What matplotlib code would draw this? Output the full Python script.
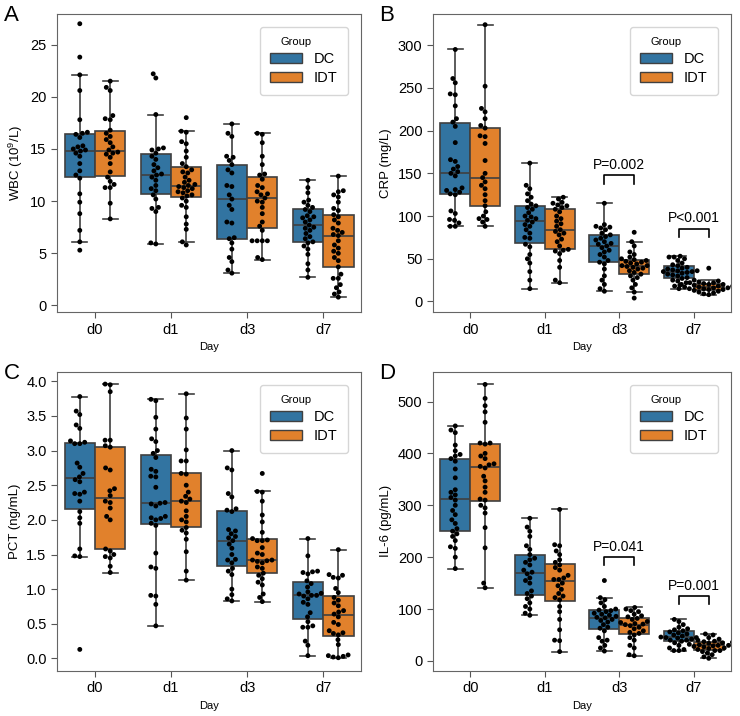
# 4-panel box + swarm chart (WBC, CRP, PCT, IL-6 by day and group)

import matplotlib
matplotlib.use('Agg')
import matplotlib.pyplot as plt
from matplotlib.patches import Patch
import pandas as pd
import seaborn as sns

plt.rcParams['font.family'] = ['Liberation Sans', 'DejaVu Sans']
plt.rcParams['mathtext.fontset'] = 'custom'
plt.rcParams['mathtext.rm'] = 'Liberation Sans'

days = ['d0', 'd1', 'd3', 'd7']
groups = ['DC', 'IDT']
colors = ['#1f77b4', '#ff7f0e']

# --- WBC (10^9/L) ---
wbc_dc_d0 = [27.0, 23.8, 22.1, 20.6, 17.8, 16.6, 16.5, 16.4, 16.1, 15.3, 15.2, 15.0, 14.9, 14.8,
             14.6, 14.3, 13.6, 12.9, 12.5, 12.2, 10.7, 9.9, 8.8, 7.2, 6.1, 5.3]
wbc_idt_d0 = [21.5, 20.9, 20.6, 18.2, 17.9, 17.8, 16.8, 16.5, 16.2, 15.9, 15.6, 15.2, 14.9, 14.7,
              14.6, 14.5, 14.2, 13.6, 12.8, 12.3, 11.9, 11.6, 11.3, 11.3, 9.8, 8.3]
wbc_dc_d1 = [22.2, 21.8, 18.3, 15.1, 15.0, 14.9, 14.6, 14.3, 14.0, 13.5, 13.2, 12.9, 12.6, 12.5,
             12.3, 12.0, 11.5, 11.2, 11.0, 10.6, 10.2, 9.4, 9.3, 9.0, 6.0, 5.9]
wbc_idt_d1 = [18.0, 16.7, 16.6, 15.7, 15.5, 14.8, 14.2, 13.6, 13.3, 13.0, 12.8, 12.7, 12.3, 12.0,
              11.8, 11.6, 11.5, 11.4, 11.3, 11.2, 11.0, 10.9, 10.8, 10.6, 10.5, 10.3, 10.0, 9.6,
              9.4, 8.5, 7.8, 7.3, 6.1, 5.8]
wbc_dc_d3 = [17.4, 16.5, 16.2, 14.3, 14.2, 13.9, 13.5, 13.0, 12.7, 11.5, 11.4, 10.6, 10.2, 9.6,
             9.2, 8.0, 7.9, 6.5, 6.4, 6.0, 5.4, 4.6, 4.2, 3.4, 3.1]
wbc_idt_d3 = [16.5, 16.4, 15.6, 14.3, 13.5, 12.6, 12.5, 12.1, 11.5, 11.3, 10.9, 10.7, 10.6, 10.3,
              10.0, 9.9, 9.4, 8.8, 8.0, 7.6, 7.2, 6.2, 6.2, 6.2, 6.2, 4.6, 4.4]
wbc_dc_d7 = [12.0, 11.3, 10.8, 10.1, 9.9, 9.6, 9.4, 9.2, 9.0, 8.6, 8.5, 8.4, 8.2, 8.0, 7.7, 7.5,
             7.4, 7.2, 6.9, 6.6, 6.4, 6.1, 6.0, 5.7, 5.4, 4.9, 4.0, 3.4, 2.7]
wbc_idt_d7 = [12.4, 11.0, 10.9, 10.6, 10.4, 9.9, 9.3, 9.1, 8.7, 8.5, 8.2, 7.9, 7.4, 7.2, 7.0, 6.8,
              6.7, 6.2, 5.8, 5.5, 5.2, 5.0, 4.6, 4.3, 3.7, 3.0, 2.6, 2.6, 2.0, 1.7, 1.3, 1.1, 0.8]

# --- CRP (mg/L) ---
crp_dc_d0 = [295, 261, 256, 243, 242, 229, 214, 210, 205, 186, 166, 164, 158, 155, 152, 150, 147,
             133, 131, 130, 128, 126, 125, 106, 103, 96, 95, 92, 88, 88]
crp_idt_d0 = [324, 252, 226, 222, 214, 206, 203, 194, 193, 185, 165, 150, 145, 140, 136, 132, 125,
              118, 112, 105, 100, 97, 96, 93, 88]
crp_dc_d1 = [162, 136, 132, 126, 122, 118, 114, 112, 110, 108, 104, 100, 99, 97, 95, 93, 90, 88,
             84, 80, 75, 74, 67, 64, 55, 50, 45, 35, 25, 15]
crp_idt_d1 = [122, 120, 116, 115, 113, 112, 110, 108, 105, 100, 97, 94, 91, 88, 84, 82, 80, 78,
              73, 70, 65, 61, 60, 59, 56, 48, 40, 25, 22]
crp_dc_d3 = [115, 90, 88, 87, 86, 84, 80, 78, 76, 74, 72, 70, 68, 67, 65, 63, 60, 58, 55, 52, 48,
             46, 44, 38, 30, 25, 20, 15, 12]
crp_idt_d3 = [81, 70, 65, 58, 55, 52, 50, 49, 48, 47, 46, 45, 44, 42, 42, 41, 40, 39, 38, 36, 34,
              32, 30, 28, 25, 20, 16, 11, 4]
crp_dc_d7 = [53, 52, 52, 50, 48, 45, 43, 42, 40, 39, 38, 37, 36, 36, 35, 35, 34, 33, 32, 31, 30,
             28, 27, 25, 24, 22, 20, 18, 15]
crp_idt_d7 = [39, 25, 24, 23, 22, 22, 21, 20, 20, 19, 19, 18, 18, 18, 17, 17, 16, 16, 15, 15, 14,
              14, 13, 12, 11, 10, 9, 8]

# --- PCT (ng/mL) ---
pct_dc_d0 = [3.78, 3.57, 3.52, 3.37, 3.32, 3.14, 3.12, 3.10, 3.10, 2.82, 2.76, 2.67, 2.62, 2.58,
             2.55, 2.40, 2.38, 2.37, 2.27, 2.12, 2.03, 1.95, 1.58, 1.48, 1.47, 0.13]
pct_idt_d0 = [3.96, 3.95, 3.85, 3.15, 3.15, 3.07, 3.05, 2.75, 2.72, 2.45, 2.42, 2.35, 2.27, 2.25,
              2.17, 2.05, 2.00, 1.58, 1.55, 1.50, 1.47, 1.45, 1.33, 1.24]
pct_dc_d1 = [3.74, 3.72, 3.48, 3.31, 3.17, 3.13, 3.00, 2.96, 2.90, 2.73, 2.70, 2.63, 2.62, 2.47,
             2.25, 2.24, 2.23, 2.20, 2.05, 2.03, 2.02, 2.00, 1.95, 1.92, 1.52, 1.32, 1.30, 0.91,
             0.90, 0.78, 0.47]
pct_idt_d1 = [3.82, 3.47, 3.31, 3.01, 2.85, 2.85, 2.67, 2.66, 2.50, 2.40, 2.34, 2.30, 2.27, 2.25,
              2.13, 2.05, 2.00, 1.97, 1.89, 1.85, 1.81, 1.72, 1.54, 1.26, 1.13]
pct_dc_d3 = [3.00, 2.75, 2.72, 2.38, 2.33, 2.16, 2.14, 2.12, 1.86, 1.84, 1.80, 1.76, 1.74, 1.70,
             1.65, 1.59, 1.50, 1.43, 1.42, 1.38, 1.30, 1.26, 1.21, 1.00, 0.92, 0.86, 0.83]
pct_idt_d3 = [2.67, 2.41, 2.40, 2.27, 2.07, 1.97, 1.82, 1.73, 1.71, 1.70, 1.70, 1.60, 1.52, 1.50,
              1.42, 1.42, 1.41, 1.40, 1.38, 1.32, 1.30, 1.23, 1.20, 1.15, 1.10, 1.06, 0.93, 0.88,
              0.82]
pct_dc_d7 = [1.73, 1.48, 1.26, 1.25, 1.24, 1.22, 1.12, 1.08, 1.03, 0.96, 0.94, 0.93, 0.91, 0.91,
             0.90, 0.86, 0.81, 0.78, 0.66, 0.60, 0.53, 0.47, 0.45, 0.45, 0.25, 0.19, 0.04]
pct_idt_d7 = [1.57, 1.21, 1.20, 1.17, 1.16, 1.01, 0.95, 0.88, 0.84, 0.80, 0.76, 0.69, 0.67, 0.64,
              0.60, 0.52, 0.49, 0.40, 0.37, 0.36, 0.34, 0.27, 0.20, 0.05, 0.04, 0.03, 0.02, 0.01]

# --- IL-6 (pg/mL) ---
il6_dc_d0 = [453, 445, 440, 416, 405, 398, 395, 390, 385, 370, 353, 330, 325, 320, 315, 310, 300,
             290, 282, 272, 265, 255, 250, 245, 240, 232, 220, 217, 200, 178]
il6_idt_d0 = [533, 506, 492, 480, 460, 420, 420, 418, 400, 395, 390, 380, 378, 375, 372, 356, 347,
              335, 325, 312, 310, 300, 295, 285, 257, 218, 150, 141]
il6_dc_d1 = [275, 258, 250, 240, 222, 215, 205, 198, 195, 190, 185, 175, 171, 168, 160, 155, 150,
             135, 130, 125, 120, 112, 105, 100, 92, 88]
il6_idt_d1 = [292, 224, 222, 212, 205, 195, 190, 185, 180, 175, 165, 160, 157, 157, 150, 145, 138,
              130, 125, 122, 118, 105, 95, 80, 60, 40, 39, 18]
il6_dc_d3 = [155, 122, 118, 112, 105, 100, 98, 97, 95, 92, 90, 88, 86, 84, 83, 80, 78, 75, 70, 65,
             63, 58, 45, 40, 38, 30, 25, 19]
il6_idt_d3 = [103, 100, 97, 95, 90, 87, 85, 82, 80, 76, 74, 72, 71, 70, 68, 65, 62, 58, 55, 53, 50,
              45, 40, 30, 25, 12, 10]
il6_dc_d7 = [80, 76, 70, 65, 62, 60, 58, 56, 54, 52, 50, 48, 46, 45, 45, 44, 42, 40, 40, 38, 35, 30,
             25, 22, 20, 20]
il6_idt_d7 = [52, 50, 45, 42, 40, 38, 37, 36, 35, 34, 32, 31, 30, 30, 29, 28, 27, 25, 24, 22, 20,
              20, 18, 15, 12, 8, 5]

# P値の注釈: (day, 高さ, テキスト)
crp_pvals = [('d3', 148, 'P=0.002'), ('d7', 85, 'P<0.001')]
il6_pvals = [('d3', 200, 'P=0.041'), ('d7', 125, 'P=0.001')]


def to_frame(dc, idt):
    rows = []
    for day, a, b in zip(days, dc, idt):
        rows += [(day, 'DC', v) for v in a]
        rows += [(day, 'IDT', v) for v in b]
    return pd.DataFrame(rows, columns=['Day', 'Group', 'value'])


panels = [
    ('A', [0.077, 0.564, 0.411, 0.417], 'WBC (10$^{9}$/L)',
     to_frame([wbc_dc_d0, wbc_dc_d1, wbc_dc_d3, wbc_dc_d7], [wbc_idt_d0, wbc_idt_d1, wbc_idt_d3, wbc_idt_d7]),
     (-0.64, 27.97), [0, 5, 10, 15, 20, 25], [], 1.0),
    ('B', [0.585, 0.564, 0.403, 0.417], 'CRP (mg/L)',
     to_frame([crp_dc_d0, crp_dc_d1, crp_dc_d3, crp_dc_d7], [crp_idt_d0, crp_idt_d1, crp_idt_d3, crp_idt_d7]),
     (-12.5, 337), [0, 50, 100, 150, 200, 250, 300], crp_pvals, 10),
    ('C', [0.077, 0.063, 0.411, 0.418], 'PCT (ng/mL)',
     to_frame([pct_dc_d0, pct_dc_d1, pct_dc_d3, pct_dc_d7], [pct_idt_d0, pct_idt_d1, pct_idt_d3, pct_idt_d7]),
     (-0.18, 4.14), [0.0, 0.5, 1.0, 1.5, 2.0, 2.5, 3.0, 3.5, 4.0], [], 0.1),
    ('D', [0.585, 0.063, 0.403, 0.418], 'IL-6 (pg/mL)',
     to_frame([il6_dc_d0, il6_dc_d1, il6_dc_d3, il6_dc_d7], [il6_idt_d0, il6_idt_d1, il6_idt_d3, il6_idt_d7]),
     (-19.2, 557.7), [0, 100, 200, 300, 400, 500], il6_pvals, 16),
]

fig = plt.figure(figsize=(7.4, 7.16), dpi=100)
edge = '#404040'
box_colors = [sns.desaturate(c, 0.75) for c in colors]

for letter, pos, ylabel, df, ylim, yticks, pvals, drop in panels:
    ax = fig.add_axes(pos)
    sns.boxplot(data=df, x='Day', y='value', hue='Group', order=days, hue_order=groups,
                palette=colors, showfliers=False, linewidth=1.2, linecolor=edge,
                legend=False, ax=ax)
    sns.swarmplot(data=df, x='Day', y='value', hue='Group', order=days, hue_order=groups,
                  palette=['black', 'black'], dodge=True, size=3.5, legend=False, ax=ax)

    for day, h, text in pvals:
        i = days.index(day)
        ax.plot([i - 0.2, i - 0.2, i + 0.2, i + 0.2], [h - drop, h, h, h - drop],
                color='black', lw=1.2)
        ax.text(i, h + drop * 0.4, text, ha='center', va='bottom', fontsize=10)

    ax.set_ylim(ylim)
    ax.set_yticks(yticks)
    ax.set_xlim(-0.5, 3.5)
    ax.set_xlabel('Day', fontsize=8)
    ax.set_ylabel(ylabel, fontsize=9.5)
    ax.tick_params(labelsize=10.5, color='#555555', length=4)
    for s in ax.spines.values():
        s.set_color('#666666')

    handles = [Patch(facecolor=c, edgecolor=edge, linewidth=1.0) for c in box_colors]
    leg = ax.legend(handles, groups, title='Group', loc='upper right', fontsize=10.5,
                    title_fontsize=8, handlelength=2.2, handleheight=0.75,
                    borderpad=0.7, labelspacing=0.35, borderaxespad=0.9)
    leg.get_title().set_position((-8, 0))

    fig.text(pos[0] - 0.072, pos[1] + pos[3] - 0.003, letter, fontsize=16, va='center')

fig.savefig('out.png', dpi=100)
